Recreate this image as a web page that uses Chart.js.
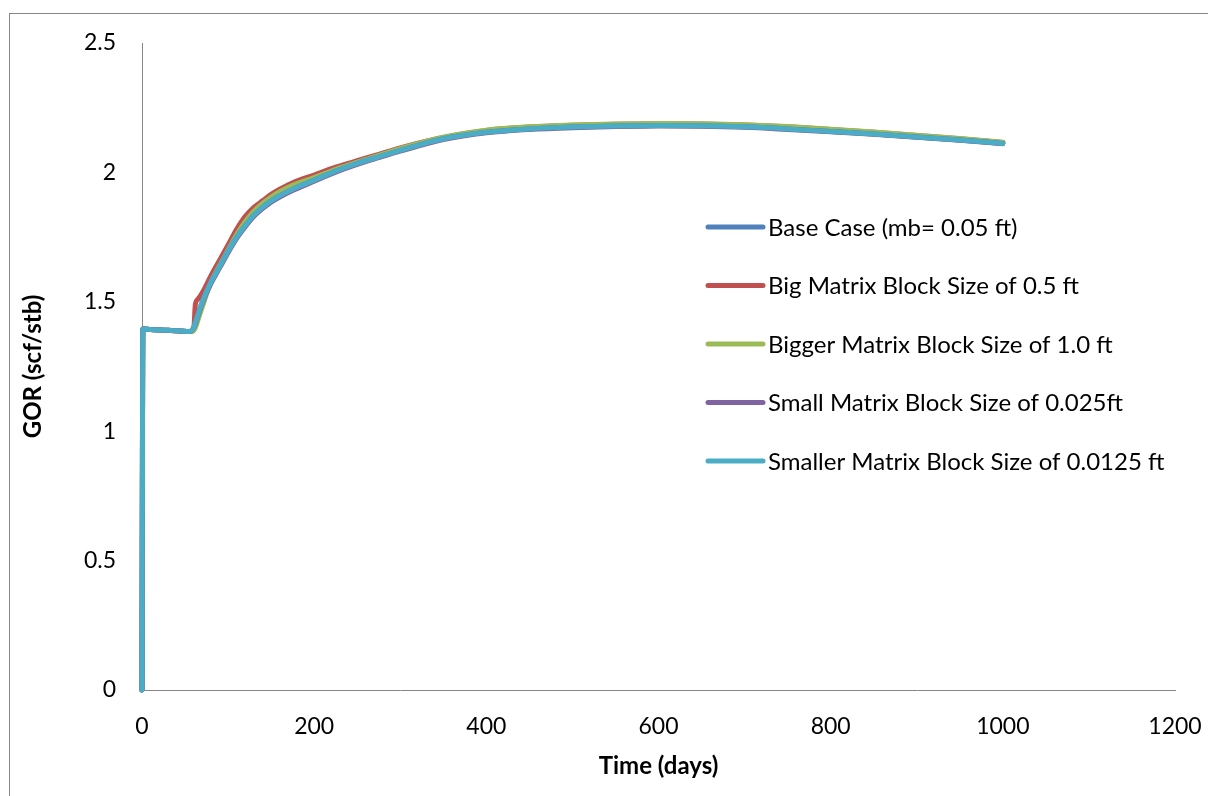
<!DOCTYPE html>
<html>
<head>
<meta charset="utf-8">
<title>GOR vs Time</title>
<script src="https://cdn.jsdelivr.net/npm/chart.js@4"></script>
<style>
  html, body { margin: 0; padding: 0; background: #fff; }
  canvas { display: block; }
</style>
</head>
<body>
<canvas id="gorChart" width="1208" height="796"></canvas>
<script>
// time axis (days), shared by all runs
const days = [0, 1, 10, 30, 55, 58, 60, 62, 65, 70, 80, 90, 100, 110, 120, 130, 140, 150, 160, 175,
  200, 225, 250, 275, 300, 350, 400, 450, 500, 550, 600, 650, 700, 750, 800, 850, 900, 950, 1000];

// GOR (scf/stb) for each matrix block size
const baseCase = [0, 1.395, 1.393, 1.39, 1.385, 1.39, 1.40, 1.42, 1.45, 1.50, 1.575, 1.635, 1.695, 1.75, 1.795, 1.835, 1.865, 1.89, 1.91, 1.935,
  1.97, 2.005, 2.035, 2.06, 2.085, 2.13, 2.155, 2.168, 2.175, 2.179, 2.181, 2.18, 2.176, 2.168, 2.158, 2.148, 2.137, 2.125, 2.112];
const bigBlock = [0, 1.395, 1.393, 1.39, 1.385, 1.385, 1.39, 1.49, 1.51, 1.535, 1.60, 1.66, 1.72, 1.78, 1.83, 1.865, 1.89, 1.915, 1.935, 1.96,
  1.99, 2.02, 2.045, 2.07, 2.095, 2.135, 2.162, 2.175, 2.182, 2.186, 2.188, 2.187, 2.183, 2.176, 2.166, 2.155, 2.143, 2.13, 2.116];
const biggerBlock = [0, 1.395, 1.393, 1.39, 1.385, 1.385, 1.39, 1.40, 1.43, 1.48, 1.575, 1.64, 1.70, 1.76, 1.81, 1.85, 1.88, 1.905, 1.925, 1.95,
  1.98, 2.012, 2.04, 2.066, 2.092, 2.136, 2.163, 2.176, 2.183, 2.187, 2.189, 2.188, 2.184, 2.177, 2.167, 2.156, 2.144, 2.131, 2.117];
const smallBlock = [0, 1.395, 1.393, 1.39, 1.385, 1.39, 1.40, 1.415, 1.445, 1.495, 1.57, 1.63, 1.69, 1.745, 1.79, 1.83, 1.86, 1.885, 1.905, 1.93,
  1.966, 2.001, 2.031, 2.057, 2.082, 2.127, 2.153, 2.166, 2.173, 2.177, 2.179, 2.178, 2.174, 2.166, 2.157, 2.147, 2.136, 2.124, 2.111];
const smallerBlock = [0, 1.395, 1.393, 1.39, 1.385, 1.39, 1.40, 1.42, 1.45, 1.50, 1.575, 1.635, 1.695, 1.75, 1.795, 1.835, 1.865, 1.89, 1.91, 1.935,
  1.97, 2.005, 2.035, 2.06, 2.085, 2.13, 2.155, 2.168, 2.175, 2.179, 2.181, 2.18, 2.176, 2.168, 2.158, 2.148, 2.137, 2.125, 2.112];

const seriesNames = [
  "Base Case (mb= 0.05 ft)",
  "Big Matrix Block Size of 0.5 ft",
  "Bigger Matrix Block Size of 1.0 ft",
  "Small Matrix Block Size of 0.025ft",
  "Smaller Matrix Block Size of 0.0125 ft"
];
const seriesColors = ["#4F81BD", "#C0504D", "#9BBB59", "#8064A2", "#4BACC6"];
const seriesValues = [baseCase, bigBlock, biggerBlock, smallBlock, smallerBlock];
// later runs sit on top of earlier ones
const drawOrder = [2, 4, 3, 1, 0];

const xTicks = [0, 200, 400, 600, 800, 1000, 1200];
const yTicks = [0, 0.5, 1, 1.5, 2, 2.5];

const FONT = "Lato, 'Open Sans', sans-serif";
Chart.defaults.font.family = FONT;
Chart.defaults.font.size = 23;
Chart.defaults.color = "#000";

/* white page + grey frame */
const frame = {
  id: 'frame',
  beforeDraw(chart) {
    const {ctx, width, height} = chart;
    ctx.save();
    ctx.fillStyle = "#fff";
    ctx.fillRect(0, 0, width, height);
    ctx.strokeStyle = "#868686";
    ctx.lineWidth = 1;
    ctx.strokeRect(9.5, 13.5, 1210, 800);
    ctx.restore();
  }
};

/* legend stacked inside the plot, right side */
const sideLegend = {
  id: 'sideLegend',
  afterDraw(chart) {
    const ctx = chart.ctx;
    const x0 = 708, x1 = 763, top = 227, gap = 58.5;
    ctx.save();
    ctx.font = "24px " + FONT;
    ctx.textBaseline = "middle";
    ctx.textAlign = "left";
    chart.data.datasets.forEach((ds, i) => {
      const y = top + i * gap;
      ctx.strokeStyle = ds.borderColor;
      ctx.lineWidth = 5;
      ctx.lineCap = "round";
      ctx.beginPath();
      ctx.moveTo(x0, y);
      ctx.lineTo(x1, y);
      ctx.stroke();
      ctx.fillStyle = "#000";
      ctx.fillText(ds.label, x1 + 5, y + 1);
    });
    ctx.restore();
  }
};

new Chart(document.getElementById("gorChart"), {
  type: "line",
  data: {
    labels: days,
    datasets: seriesNames.map((name, i) => ({
      label: name,
      data: days.map((d, k) => ({x: d, y: seriesValues[i][k]})),
      borderColor: seriesColors[i],
      backgroundColor: seriesColors[i],
      borderWidth: 5,
      borderCapStyle: "round",
      borderJoinStyle: "round",
      pointRadius: 0,
      cubicInterpolationMode: "monotone",
      clip: false,
      order: drawOrder[i]
    }))
  },
  options: {
    responsive: false,
    animation: false,
    events: [],
    layout: { padding: { top: 43, right: 33, left: 0, bottom: 0 } },
    plugins: {
      legend: { display: false },
      tooltip: { enabled: false }
    },
    scales: {
      x: {
        type: "linear",
        min: 0,
        max: 1200,
        afterBuildTicks(scale) { scale.ticks = xTicks.map(v => ({value: v})); },
        afterFit(scale) {
          scale.height = 106;
          scale.paddingLeft = 0;
          scale.paddingRight = 0;
        },
        grid: { display: false, drawTicks: false },
        border: { display: true, color: "#868686", width: 1 },
        ticks: { padding: 23, callback: v => String(v) },
        title: {
          display: true,
          text: "Time (days)",
          font: { weight: "bold", size: 24 },
          padding: { top: 15, bottom: 15 }
        }
      },
      y: {
        type: "linear",
        min: 0,
        max: 2.5,
        afterBuildTicks(scale) { scale.ticks = yTicks.map(v => ({value: v})); },
        afterFit(scale) {
          scale.width = 142;
          scale.paddingTop = 0;
          scale.paddingBottom = 0;
        },
        grid: { display: false, drawTicks: false },
        border: { display: true, color: "#868686", width: 1 },
        ticks: { padding: 26, callback: v => String(v) },
        title: {
          display: true,
          text: "GOR (scf/stb)",
          font: { weight: "bold", size: 24 },
          padding: { top: 19, bottom: 19 }
        }
      }
    }
  },
  plugins: [frame, sideLegend]
});
</script>
</body>
</html>
